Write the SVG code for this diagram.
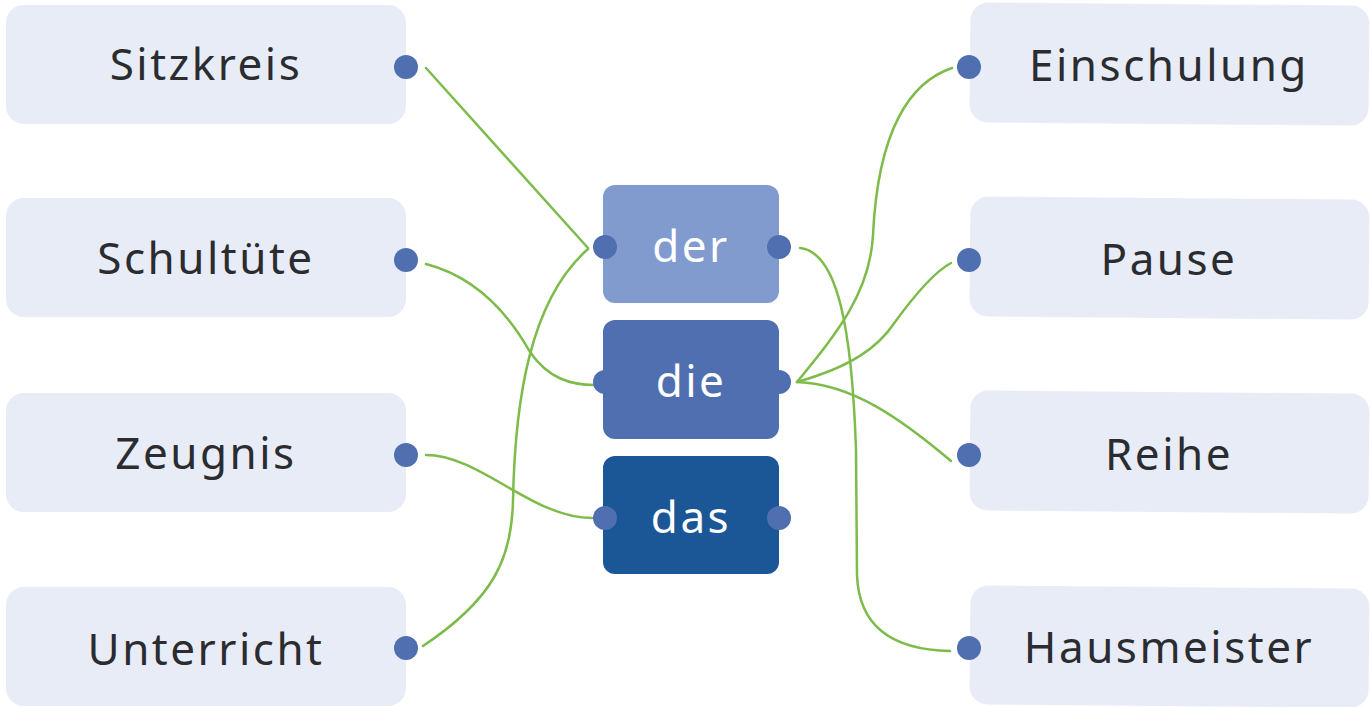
<svg xmlns="http://www.w3.org/2000/svg" width="1370" height="707" viewBox="0 0 1370 707">
<style>
.box{fill:#e8ecf7}
.dot{fill:#4f6fb0}
.lbl{font-family:"Noto Sans","Liberation Sans",sans-serif;font-size:44px;fill:#2b2c30;text-anchor:middle;letter-spacing:2.5px}
.art{font-family:"Noto Sans","Liberation Sans",sans-serif;font-size:44px;fill:#ffffff;text-anchor:middle;letter-spacing:2.5px}
.ln{fill:none;stroke:#7dbb4a;stroke-width:2.5;stroke-linecap:round}
</style>
<rect width="1370" height="707" fill="#ffffff"/>
<g id="connectors">
<path class="ln" d="M426,68 L588,248"/>
<path class="ln" d="M426,264 C480,278 512,320 530,352 C548,378 570,385 595,385"/>
<path class="ln" d="M426,455 C480,455 532,518 592,518"/>
<path class="ln" d="M423,646 C492,600 512,560 513,500 C515,400 530,300 588,249"/>
<path class="ln" d="M800,248 C838,252 852,330 856,450 L857,575 C859,632 900,650 950,651"/>
<path class="ln" d="M797,382 C838,332 870,292 873,235 C878,130 910,82 952,68"/>
<path class="ln" d="M797,382 C850,367 878,348 895,322 C914,296 934,272 951,263"/>
<path class="ln" d="M797,382 C852,384 900,418 951,461"/>
</g>
<g id="n-sitzkreis"><rect class="box" x="6" y="5" width="400" height="119" rx="18"/><circle class="dot" cx="406" cy="67" r="12"/><text class="lbl" x="206" y="80">Sitzkreis</text></g>
<g id="n-schultuete"><rect class="box" x="6" y="198" width="400" height="119" rx="18"/><circle class="dot" cx="406" cy="260" r="12"/><text class="lbl" x="206" y="274">Schultüte</text></g>
<g id="n-zeugnis"><rect class="box" x="6" y="393" width="400" height="119" rx="18"/><circle class="dot" cx="406" cy="455" r="12"/><text class="lbl" x="206" y="469">Zeugnis</text></g>
<g id="n-unterricht"><rect class="box" x="6" y="587" width="400" height="119" rx="18"/><circle class="dot" cx="406" cy="648" r="12"/><text class="lbl" x="206" y="665">Unterricht</text></g>
<g id="n-der"><rect x="603" y="185" width="176" height="118" rx="12" fill="#819bcf"/><circle class="dot" cx="605" cy="247" r="12"/><circle class="dot" cx="779" cy="247" r="12"/><text class="art" x="691" y="262">der</text></g>
<g id="n-die"><rect x="603" y="320" width="176" height="119" rx="12" fill="#4f6fb0"/><circle class="dot" cx="605" cy="382" r="12"/><circle class="dot" cx="779" cy="382" r="12"/><text class="art" x="691" y="397">die</text></g>
<g id="n-das"><rect x="603" y="456" width="176" height="118" rx="12" fill="#1b5796"/><circle class="dot" cx="605" cy="518" r="12" fill="#4f6fb0"/><circle cx="779" cy="518" r="12" fill="#4f6fb0"/><text class="art" x="691" y="533">das</text></g>
<g id="n-einschulung"><rect class="box" x="970" y="4" width="399" height="120" rx="18" transform="rotate(0.5 1170 64)"/><circle class="dot" cx="969" cy="67" r="12"/><text class="lbl" x="1169" y="81">Einschulung</text></g>
<g id="n-pause"><rect class="box" x="970" y="198" width="399" height="120" rx="18" transform="rotate(0.5 1170 258)"/><circle class="dot" cx="969" cy="260" r="12"/><text class="lbl" x="1169" y="275">Pause</text></g>
<g id="n-reihe"><rect class="box" x="970" y="392" width="399" height="120" rx="18" transform="rotate(0.5 1170 452)"/><circle class="dot" cx="969" cy="455" r="12"/><text class="lbl" x="1169" y="470">Reihe</text></g>
<g id="n-hausmeister"><rect class="box" x="970" y="587" width="399" height="119" rx="18" transform="rotate(0.5 1170 646)"/><circle class="dot" cx="969" cy="648" r="12"/><text class="lbl" x="1169" y="663">Hausmeister</text></g>
</svg>
